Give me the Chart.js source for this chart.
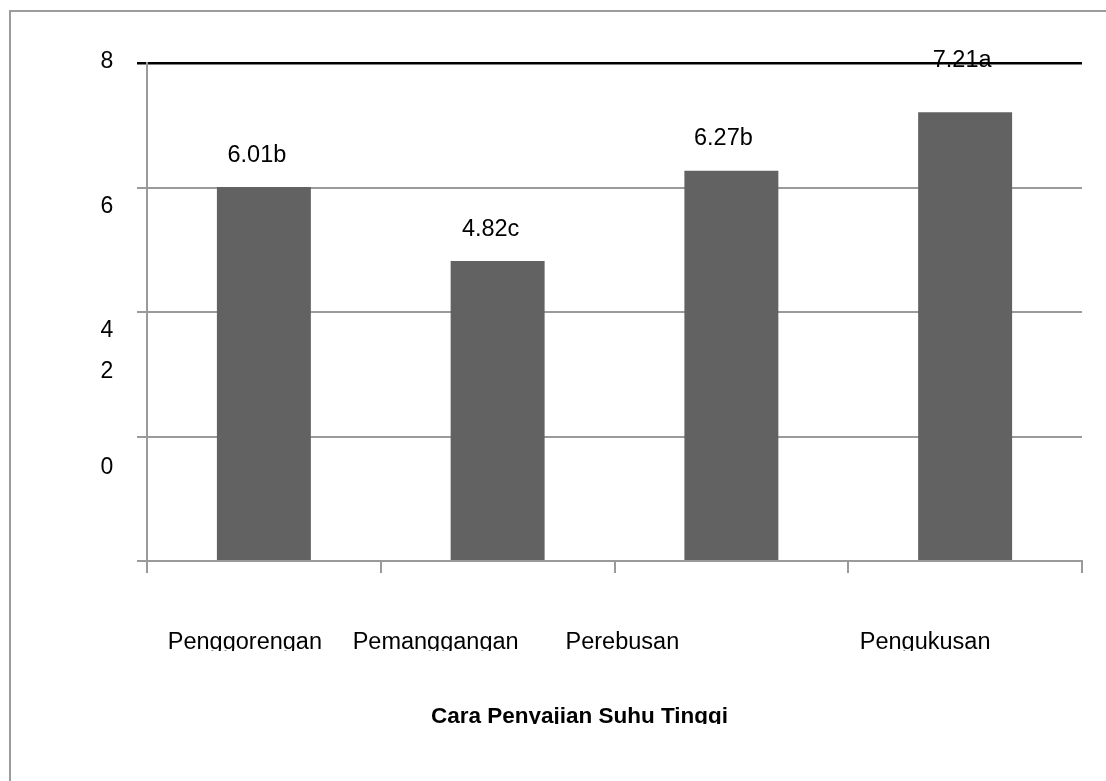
<!DOCTYPE html>
<html>
<head>
<meta charset="utf-8">
<script src="https://cdn.jsdelivr.net/npm/chart.js@4/dist/chart.umd.min.js"></script>
<style>
  html, body { margin: 0; padding: 0; background: #fff; }
  #frame {
    position: absolute; left: 9px; top: 10px; width: 1200px; height: 900px;
    border-top: 2px solid #9c9c9c; border-left: 2px solid #9c9c9c;
  }
  #wrap { position: absolute; left: 0; top: 0; width: 1106px; height: 781px; }
</style>
</head>
<body>
<div id="frame"></div>
<div id="wrap"><canvas id="grafik" width="1106" height="781"></canvas></div>
<script>
// data
const kategori = ["Penggorengan", "Pemanggangan", "Perebusan", "Pengukusan"];
const nilai = [6.01, 4.82, 6.27, 7.21];
const notasi = ["6.01b", "4.82c", "6.27b", "7.21a"];
const yTicks = [0, 2, 4, 6, 8];
const judulX = "Cara Penyajian Suhu Tinggi";

// tata letak label (geser dalam px, seperti di gambar asli)
const geserLabelY = [-93, -65, 19, 19, -1];
const geserKategori = [-19, -62, -109, -40];
const geserNotasi = [[-7, -31], [-7, -31], [-8, -32], [-3, -52]];

const huruf = "'Liberation Sans', Arial, sans-serif";
const abu = '#9a9a9a';

const labelPlugin = {
  id: 'labelManual',
  afterDatasetsDraw(chart) {
    const ctx = chart.ctx;
    const area = chart.chartArea;
    const y = chart.scales.y;
    const x = chart.scales.x;
    ctx.save();
    ctx.fillStyle = '#000';

    // label sumbu Y
    ctx.font = '23px ' + huruf;
    ctx.textAlign = 'center';
    ctx.textBaseline = 'middle';
    yTicks.forEach((v, i) => {
      ctx.fillText(String(v), area.left - 40, y.getPixelForValue(v) + geserLabelY[i]);
    });

    // notasi di atas batang
    ctx.font = '23.5px ' + huruf;
    const meta = chart.getDatasetMeta(0);
    meta.data.forEach((bar, i) => {
      ctx.fillText(notasi[i], bar.x + geserNotasi[i][0], bar.y + geserNotasi[i][1]);
    });

    // kategori (terpotong di bawah garis dasar seperti aslinya)
    ctx.save();
    ctx.beginPath();
    ctx.rect(0, 0, chart.width, area.bottom + 90);
    ctx.clip();
    ctx.textBaseline = 'alphabetic';
    kategori.forEach((k, i) => {
      ctx.fillText(k, x.getPixelForValue(i) + geserKategori[i], area.bottom + 88);
    });
    ctx.restore();

    // judul sumbu X
    ctx.save();
    ctx.beginPath();
    ctx.rect(0, 0, chart.width, area.bottom + 163);
    ctx.clip();
    ctx.font = 'bold 22.5px ' + huruf;
    ctx.textBaseline = 'alphabetic';
    ctx.fillText(judulX, (area.left + area.right) / 2 - 35, area.bottom + 162);
    ctx.restore();

    ctx.restore();
  }
};

new Chart(document.getElementById('grafik').getContext('2d'), {
  type: 'bar',
  data: {
    labels: kategori,
    datasets: [{
      data: nilai,
      backgroundColor: '#626262',
      borderWidth: 0,
      categoryPercentage: 1,
      barPercentage: 0.402
    }]
  },
  options: {
    responsive: false,
    animation: false,
    devicePixelRatio: 1,
    layout: { padding: { top: 63, right: 24, bottom: 0, left: 0 } },
    plugins: {
      legend: { display: false },
      tooltip: { enabled: false }
    },
    scales: {
      y: {
        min: 0,
        max: 8,
        afterFit: s => { s.width = 147; },
        afterBuildTicks: s => { s.ticks = yTicks.map(v => ({ value: v })); },
        ticks: { display: false },
        grid: {
          color: c => c.tick && c.tick.value === 8 ? '#000' : abu,
          lineWidth: c => c.tick && c.tick.value === 8 ? 2.5 : 2,
          tickLength: 10
        },
        border: { display: true, color: abu, width: 2 }
      },
      x: {
        afterFit: s => { s.height = 220; },
        ticks: { display: false },
        grid: {
          offset: true,
          drawOnChartArea: false,
          color: abu,
          lineWidth: 2,
          tickLength: 12
        },
        border: { display: true, color: abu, width: 2 }
      }
    }
  },
  plugins: [labelPlugin]
});
</script>
</body>
</html>
